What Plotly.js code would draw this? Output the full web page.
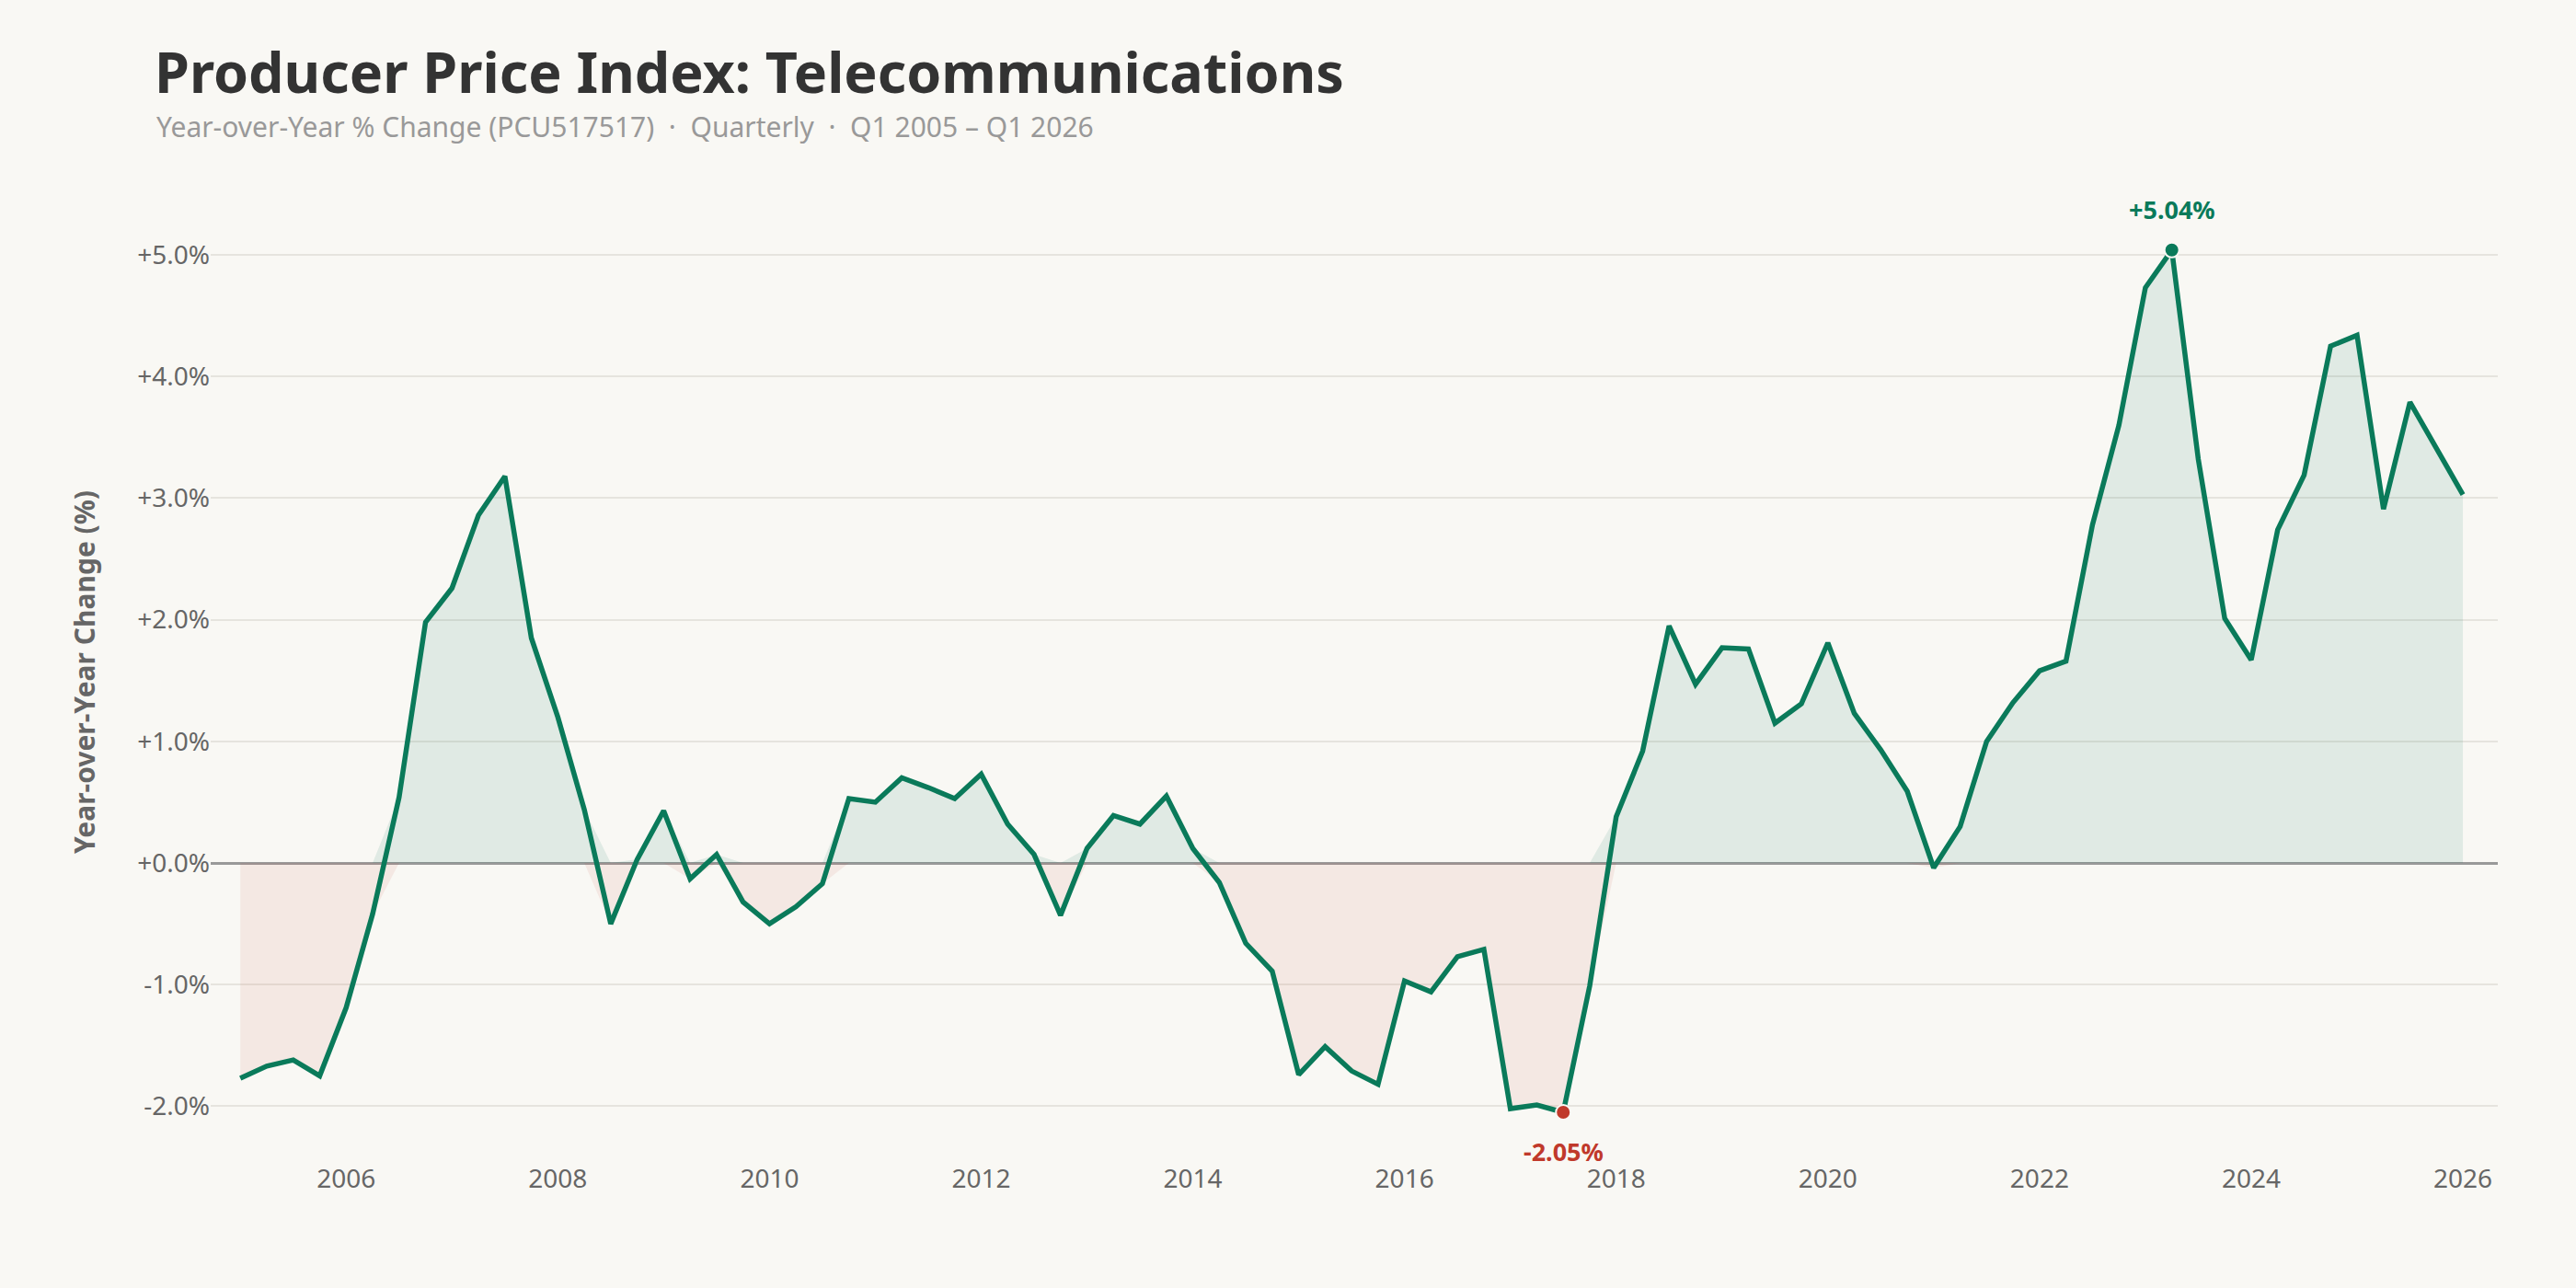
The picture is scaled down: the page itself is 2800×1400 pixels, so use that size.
<!DOCTYPE html>
<html><head><meta charset="utf-8">
<script src="https://cdn.plot.ly/plotly-3.0.1.min.js"></script>
<style>html,body{margin:0;background:#f9f8f4;}</style>
</head><body><div id="c" style="width:2800px;height:1400px"></div>
<script>
const startYear = 2005;
const yoyValues = [-1.77,-1.67,-1.62,-1.75,-1.19,-0.42,0.54,1.98,2.26,2.86,3.18,1.85,1.20,0.44,-0.50,0.03,0.43,-0.13,0.07,-0.32,-0.50,-0.36,-0.17,0.53,0.50,0.70,0.62,0.53,0.73,0.32,0.07,-0.43,0.12,0.39,0.32,0.55,0.12,-0.16,-0.66,-0.89,-1.74,-1.51,-1.71,-1.82,-0.97,-1.06,-0.77,-0.71,-2.02,-1.99,-2.05,-1.01,0.38,0.92,1.95,1.47,1.77,1.76,1.15,1.31,1.81,1.23,0.93,0.59,-0.04,0.30,1.00,1.32,1.58,1.66,2.78,3.60,4.73,5.04,3.32,2.01,1.67,2.74,3.19,4.25,4.34,2.91,3.79,3.40,3.03];
const tickVals = [2006,2008,2010,2012,2014,2016,2018,2020,2022,2024,2026];
const yTickVals = [-2,-1,0,1,2,3,4,5];
const yTickText = ['-2.0%','-1.0%','+0.0%','+1.0%','+2.0%','+3.0%','+4.0%','+5.0%'];

const x = yoyValues.map((v,i)=>startYear + i*0.25);
const pos = yoyValues.map(v=>Math.max(v,0));
const neg = yoyValues.map(v=>Math.min(v,0));
let iMax=0,iMin=0;
yoyValues.forEach((v,i)=>{if(v>yoyValues[iMax])iMax=i;if(v<yoyValues[iMin])iMin=i;});
const green='#0a7a5a', red='#c0392b';
const traces=[
 {x,y:pos,type:'scatter',mode:'lines',line:{width:0},fill:'tozeroy',fillcolor:'rgba(10,122,90,0.10)',hoverinfo:'skip'},
 {x,y:neg,type:'scatter',mode:'lines',line:{width:0},fill:'tozeroy',fillcolor:'rgba(192,57,43,0.08)',hoverinfo:'skip'},
 {x,y:yoyValues,type:'scatter',mode:'lines',line:{color:green,width:5.5}},
 {x:[x[iMax]],y:[yoyValues[iMax]],type:'scatter',mode:'markers',marker:{color:green,size:16,line:{color:'#f9f8f4',width:2}}},
 {x:[x[iMin]],y:[yoyValues[iMin]],type:'scatter',mode:'markers',marker:{color:red,size:16,line:{color:'#f9f8f4',width:2}}}
];
const layout={
 width:2800,height:1400,paper_bgcolor:'#f9f8f4',plot_bgcolor:'#f9f8f4',showlegend:false,
 margin:{l:229,r:85,t:211,b:150},
 font:{family:'Noto Sans, sans-serif',color:'#666',size:28},
 title:{text:'<b>Producer Price Index: Telecommunications</b>',x:168/2800,xanchor:'left',xref:'container',y:1-80/1400,yanchor:'middle',font:{size:61,color:'#333'}},
 xaxis:{range:[2004.72,2026.33],tickvals:tickVals,ticktext:tickVals.map(String),showgrid:false,zeroline:false,showline:false,ticks:'',ticklabelstandoff:12,tickfont:{size:28,color:'#666'}},
 yaxis:{range:[-2.36,5.5],tickvals:yTickVals,ticktext:yTickText,gridcolor:'#e6e4de',gridwidth:1.5,zeroline:true,zerolinecolor:'#999',zerolinewidth:2.5,ticks:'',tickfont:{size:28,color:'#666'},
  title:{text:'<b>Year-over-Year Change (%)</b>',font:{size:30,color:'#666'},standoff:36}},
 annotations:[
  {xref:'paper',yref:'paper',x:-0.0245,y:1.071,xanchor:'left',yanchor:'middle',showarrow:false,text:'Year-over-Year % Change (PCU517517)  ·  Quarterly  ·  Q1 2005 – Q1 2026',font:{size:30,color:'#999'}},
  {x:x[iMax],y:yoyValues[iMax],text:'<b>+'+yoyValues[iMax].toFixed(2)+'%</b>',showarrow:false,yshift:44,font:{size:27,color:green}},
  {x:x[iMin],y:yoyValues[iMin],text:'<b>'+yoyValues[iMin].toFixed(2)+'%</b>',showarrow:false,yshift:-42,font:{size:27,color:red}}
 ]
};
Plotly.newPlot('c',traces,layout,{displayModeBar:false});
</script></body></html>
